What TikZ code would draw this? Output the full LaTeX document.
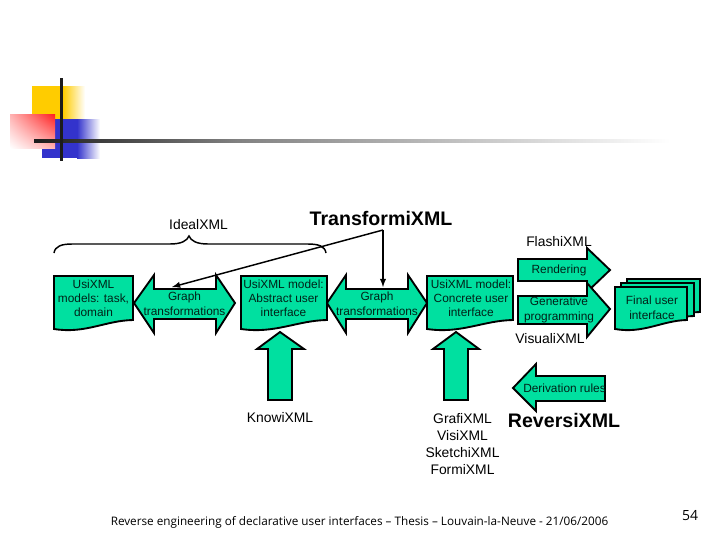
\documentclass[tikz,border=0pt]{standalone}
\usepackage{fontspec}
\usetikzlibrary{shadings}
\setmainfont{Liberation Sans}
\newfontfamily\footfont{Open Sans}
\definecolor{teal1}{RGB}{0,224,160}
\definecolor{ylw}{RGB}{255,204,0}
\definecolor{blu}{RGB}{51,51,204}
\definecolor{redd}{RGB}{255,30,30}
\definecolor{bar}{RGB}{28,28,28}
\definecolor{barmid}{RGB}{130,130,130}
\tikzset{
  x=0.75pt,y=-0.75pt,
  shp/.style={draw=black,line width=1.4pt,fill=teal1,line join=miter},
  lbl/.style={inner sep=0pt,align=center,font=\fontsize{8.9}{10.6}\selectfont,text=black!85!teal1},
  lbltwo/.style={lbl,font=\fontsize{8.9}{11.2}\selectfont},
  cap1/.style={inner sep=0pt,align=center,font=\fontsize{10.4}{13.7}\selectfont},
  big/.style={inner sep=0pt,font=\fontsize{14.7}{17}\selectfont\bfseries},
  conn/.style={draw=black,line width=1.1pt},
}
\newcommand{\docshape}[4]{% x1,x2,ytop,ybottom-right
  \path[shp] (#1,#3) -- (#2,#3) -- (#2,#4)
    .. controls ({#2-(#2-#1)*0.35},{#4+0.5}) and ({#1+(#2-#1)*0.4},{#4+14}) .. (#1,{#4+9}) -- cycle;
}
\begin{document}
\begin{tikzpicture}
\useasboundingbox (0,0) rectangle (720,540);
\fill[white] (0,0) rectangle (720,540);
% logo
\fill[ylw] (32,86) rectangle (63,120);
\shade[left color=ylw,right color=white] (63,86) rectangle (85,120);
\fill[blu] (42,119) rectangle (77,158);
\shade[left color=blu,right color=white] (77,119) rectangle (100,158);
\shade[shading=bilinear interpolation,lower left=white,upper right=redd,lower right=red!30!white,upper left=red!30!white] (10,114) rectangle (55,148);
\shade[left color=bar,right color=barmid] (34,139.7) rectangle (240,142.3);
\shade[left color=barmid,right color=white] (240,139.7) rectangle (670,142.3);
\fill[bar] (59.5,78) rectangle (62.5,161);
% document shapes
\docshape{627}{700}{279}{312}
\docshape{621}{694}{283}{316}
\docshape{615}{687}{287}{320}
\docshape{54}{133}{276}{320}
\docshape{241}{327}{276}{320}
\docshape{427}{513}{276}{320}
% double arrows
\path[shp] (134,303) -- (154,275) -- (154,289) -- (216,289) -- (216,275) -- (235,303) -- (216,333) -- (216,319) -- (154,319) -- (154,333) -- cycle;
\path[shp] (327,303) -- (346,275) -- (346,289) -- (408,289) -- (408,275) -- (427,303) -- (408,333) -- (408,319) -- (346,319) -- (346,333) -- cycle;
% right arrows
\path[shp] (518,259) -- (587,259) -- (587,248) -- (610,270) -- (587,292) -- (587,281) -- (518,281) -- cycle;
\path[shp] (518,296) -- (587,296) -- (587,283) -- (610,309) -- (587,337) -- (587,324) -- (518,324) -- cycle;
% up arrows
\path[shp] (280,332) -- (304,349) -- (292,349) -- (292,400) -- (268,400) -- (268,349) -- (257,349) -- cycle;
\path[shp] (456,332) -- (479,349) -- (468,349) -- (468,400) -- (444,400) -- (444,349) -- (433,349) -- cycle;
% derivation arrow
\path[shp] (513,388) -- (536,364) -- (536,376) -- (605,376) -- (605,401) -- (536,401) -- (536,411) -- cycle;
% brace
\draw[conn] (54,253) .. controls (55,246) and (62,244) .. (72,244) -- (170,244) .. controls (181,244) and (187,241) .. (189,236) .. controls (191,241) and (197,244) .. (208,244) -- (308,244) .. controls (318,244) and (325,246) .. (326,253);
% labels
\node[cap1] (ideal) at (198.5,225) {IdealXML};
\node[big] (transf) at (381,218) {TransformiXML};
\node[cap1] (flash) at (559,242) {FlashiXML};
\node[lbl] (doca) at (93.5,298.5) {UsiXML\\models: task,\\domain};
\node[lbltwo] (ga) at (184.5,304) {Graph\\transformations};
\node[lbl] (docb) at (283.5,298.5) {UsiXML model:\\Abstract user\\interface};
\node[lbltwo] (gb) at (377,304) {Graph\\transformations};
\node[lbl] (docc) at (471,298.5) {UsiXML model:\\Concrete user\\interface};
\node[lbl] (rend) at (559,270) {Rendering};
\node[lbltwo] (gen) at (559,309.5) {Generative\\programming};
\node[lbltwo] (fui) at (652,307.5) {Final user\\interface};
\node[cap1] (visual) at (550,339) {VisualiXML};
\node[lbl] (deriv) at (564.5,388) {Derivation rules};
\node[cap1] (knowi) at (280,418) {KnowiXML};
\node[cap1,font=\fontsize{10.4}{12.8}\selectfont] (grafi) at (462.5,444) {GrafiXML\\VisiXML\\SketchiXML\\FormiXML};
\node[big] (reversi) at (564,420) {ReversiXML};
\node[inner sep=0pt,font=\fontsize{8.8}{11}\selectfont\footfont] (foot) at (359.5,522) {Reverse engineering of declarative user interfaces – Thesis – Louvain-la-Neuve - 21/06/2006};
\node[inner sep=0pt,font=\fontsize{10.5}{12}\selectfont\footfont] (page) at (690,516) {54};
% connectors
\coordinate (bend) at (383,230);
\coordinate (tipa) at (172,287);
\coordinate (tipb) at (383,287);
\draw[conn,-latex] (bend) -- (tipa);
\draw[conn,-latex] (bend) -- (tipb);
\end{tikzpicture}
\end{document}
